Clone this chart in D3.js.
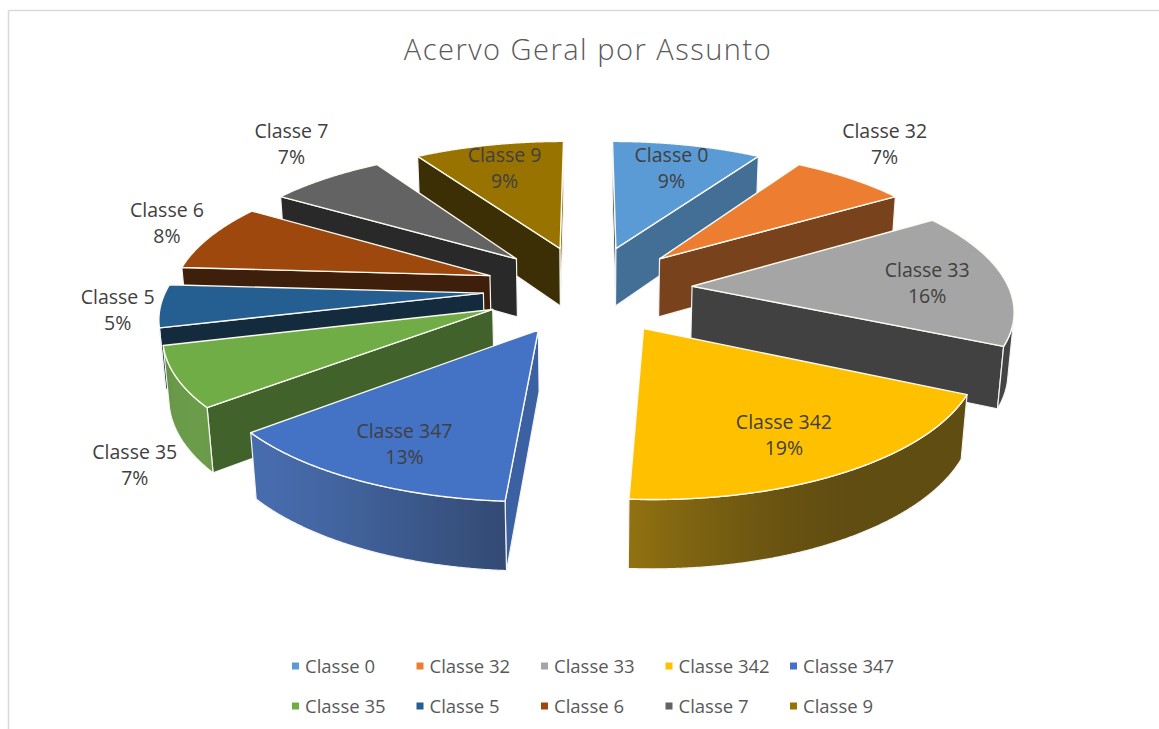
<!DOCTYPE html>
<html>
<head>
<meta charset="utf-8">
<script src="https://cdn.jsdelivr.net/npm/d3@7"></script>
<style>
  body { margin: 0; background: #fff; }
  svg { display: block; font-family: "Open Sans", Lato, sans-serif; }
</style>
</head>
<body>
<svg id="chart" width="1159" height="729"></svg>
<script>
// ---- data ----
const categories = ["Classe 0", "Classe 32", "Classe 33", "Classe 342", "Classe 347",
                    "Classe 35", "Classe 5", "Classe 6", "Classe 7", "Classe 9"];
const shares = [9, 7, 16, 19, 13, 7, 5, 8, 7, 9];
const sliceColors = ["#5B9BD5", "#ED7D31", "#A5A5A5", "#FFC000", "#4472C4",
                     "#70AD47", "#255E91", "#9E480E", "#636363", "#997300"];
const chartTitle = "Acervo Geral por Assunto";

// ---- layout ----
const W = 1159, H = 729;
const svg = d3.select("#chart");
const defs = svg.append("defs");

// chart frame
svg.append("rect")
  .attr("x", 8.5).attr("y", 10.5).attr("width", W + 40).attr("height", H + 40)
  .attr("fill", "#fff").attr("stroke", "#d9d9d9").attr("stroke-width", 1.5);

svg.append("text")
  .attr("x", 588).attr("y", 60)
  .attr("text-anchor", "middle")
  .attr("font-size", 29).attr("font-weight", 300)
  .attr("letter-spacing", 1.5)
  .attr("fill", "#595959")
  .text(chartTitle);

// ---- 3D perspective view of an exploded pie ----
const view = {
  cx: 588, cy: 289,       // screen position of the pie centre
  scale: 317,             // pixels per unit radius at the centre
  tilt: 24.9 * Math.PI / 180,
  dist: 6.26,             // camera distance in radius units
  explode: 0.33,          // explosion offset, radius units
  depth: 0.21             // slab thickness, radius units
};
const sinT = Math.sin(view.tilt), cosT = Math.cos(view.tilt);
const camera = [0, view.dist * sinT, -view.dist * cosT];

// world: X right, Y up, Z away from viewer; pie top face at Y = 0
function project(p) {
  const [X, Y, Z] = p;
  const d = 1 + (Z * cosT - Y * sinT) / view.dist;
  return [view.cx + view.scale * X / d, view.cy - view.scale * (Y * cosT + Z * sinT) / d, d];
}
const radius = d3.scaleLinear().domain([0, 1]).range([0, 1]);

const pie = d3.pie().sort(null).value(d => d.value).startAngle(0).endAngle(2 * Math.PI);
const data = categories.map((c, i) => ({ name: c, value: shares[i], color: sliceColors[i] }));
const arcs = pie(data);

const shade = (c, k, mute = 0) => {
  const r = d3.rgb(c);
  return d3.interpolateRgb(d3.rgb(r.r * k, r.g * k, r.b * k), "#5e5e5e")(mute);
};
const dot = (a, b) => a[0] * b[0] + a[1] * b[1] + a[2] * b[2];
const sub = (a, b) => [a[0] - b[0], a[1] - b[1], a[2] - b[2]];
const flat = p => project(p).slice(0, 2);
const line = pts => "M" + pts.map(p => flat(p).map(v => v.toFixed(2)).join(",")).join("L") + "Z";

// brightness of radial walls and of the rounded outer wall
const wallLight = psi => 0.38 + 0.47 * Math.pow(Math.max(0, Math.sin(psi)), 2);
const rimLight = psi => 0.38 + 0.6 * Math.pow(Math.max(0, Math.cos(psi - 235 * Math.PI / 180)), 2);

const slices = arcs.map((a, i) => {
  const m = (a.startAngle + a.endAngle) / 2;
  const R = radius(1);
  const ox = view.explode * Math.sin(m), oz = view.explode * Math.cos(m);
  const rim = (ang, y, r = R) => [ox + r * Math.sin(ang), y, oz + r * Math.cos(ang)];
  const apex = y => [ox, y, oz];
  const n = Math.max(2, Math.ceil((a.endAngle - a.startAngle) / (Math.PI / 720)));
  const topPts = [apex(0)];
  for (let k = 0; k <= n; k++) topPts.push(rim(a.startAngle + (a.endAngle - a.startAngle) * k / n, 0));
  const centre = rim(m, 0, R * 0.5);
  return { a, i, m, n, ox, oz, rim, apex, topPts, depth: project(centre)[2] };
});

const gSlices = svg.append("g");
slices.slice().sort((p, q) => q.depth - p.depth).forEach(s => {
  const { a, rim, apex, n } = s;
  const h = view.depth;
  const base = a.data.color;
  const g = gSlices.append("g");
  const a0 = a.startAngle, a1 = a.endAngle;

  // radial walls
  const walls = [
    { ang: a0, n: [-Math.cos(a0), 0, Math.sin(a0)], psi: a0 - Math.PI / 2 },
    { ang: a1, n: [Math.cos(a1), 0, -Math.sin(a1)], psi: a1 + Math.PI / 2 }
  ];
  walls.forEach(w => {
    const p = apex(-h / 2);
    if (dot(w.n, sub(camera, p)) > 0) {
      g.append("path")
        .attr("d", line([apex(0), rim(w.ang, 0), rim(w.ang, -h), apex(-h)]))
        .attr("fill", shade(base, wallLight(w.psi), 0.06))
        .attr("stroke", "#f4f4f4").attr("stroke-width", 1.2).attr("stroke-linejoin", "round");
    }
  });

  // rounded outer wall (only the part facing the camera)
  const vis = [];
  for (let k = 0; k <= n; k++) {
    const ang = a0 + (a1 - a0) * k / n;
    const nrm = [Math.sin(ang), 0, Math.cos(ang)];
    if (dot(nrm, sub(camera, rim(ang, -h / 2))) > 0) vis.push(ang);
  }
  if (vis.length > 1) {
    const top = vis.map(ang => rim(ang, 0));
    const bot = vis.slice().reverse().map(ang => rim(ang, -h));
    const xs = vis.map(ang => project(rim(ang, -h / 2))[0]);
    const x0 = d3.min(xs), x1 = d3.max(xs);
    const id = "rim" + s.i;
    const grad = defs.append("linearGradient").attr("id", id)
      .attr("gradientUnits", "userSpaceOnUse")
      .attr("x1", x0).attr("x2", x1).attr("y1", 0).attr("y2", 0);
    const stops = vis.filter((_, k) => k % 8 === 0 || k === vis.length - 1)
      .map(ang => ({ o: x1 > x0 ? (project(rim(ang, -h / 2))[0] - x0) / (x1 - x0) : 0,
                     c: shade(base, rimLight(ang), 0.18) }))
      .sort((p, q) => p.o - q.o);
    stops.forEach(st => grad.append("stop").attr("offset", st.o).attr("stop-color", st.c));
    g.append("path")
      .attr("d", line(top.concat(bot)))
      .attr("fill", `url(#${id})`)
      .attr("stroke", "#f4f4f4").attr("stroke-width", 1.2).attr("stroke-linejoin", "round");
  }

  // top face
  g.append("path")
    .attr("d", line(s.topPts))
    .attr("fill", base)
    .attr("stroke", "#fbfbf0").attr("stroke-width", 1.4).attr("stroke-linejoin", "round");
});

// ---- data labels ----
const gLabels = svg.append("g").attr("font-size", 19.5).attr("fill", "#404040");
const lineGap = 26;
slices.forEach(s => {
  const { a, m, rim, apex } = s;
  const txt = [a.data.name, a.data.value + "%"];
  const lab = gLabels.append("g");
  const t1 = lab.append("text").attr("text-anchor", "middle").text(txt[0]);
  const t2 = lab.append("text").attr("text-anchor", "middle").text(txt[1]);
  let cx, cy;
  if (a.data.value >= 9) {
    // inside the top face, pushed a little outward from its centroid
    const poly = s.topPts.map(flat);
    const c = d3.polygonCentroid(poly);
    const o = flat(apex(0));
    cx = o[0] + 1.17 * (c[0] - o[0]);
    cy = o[1] + 1.17 * (c[1] - o[1]);
  } else {
    // outside, next to the rim along the slice's mid direction
    const y = Math.cos(m) < -0.3 ? -view.depth : 0;
    const p = flat(rim(m, y, 1));
    const dx = Math.sin(m), dy = -Math.cos(m);
    const bw = Math.max(t1.node().getComputedTextLength(), t2.node().getComputedTextLength());
    const bh = lineGap * 2 + 8;
    const k = Math.min(Math.abs(dx) > 1e-6 ? (bw / 2) / Math.abs(dx) : 1e9,
                       Math.abs(dy) > 1e-6 ? (bh / 2) / Math.abs(dy) : 1e9) + 6;
    cx = p[0] + dx * k; cy = p[1] + dy * k;
  }
  t1.attr("x", cx).attr("y", cy - lineGap / 2 + 6.5);
  t2.attr("x", cx).attr("y", cy + lineGap / 2 + 6.5);
});

// ---- legend ----
const legendCols = 5, colW = 124.5, legX = 292, legY = [666, 706];
const gLeg = svg.append("g").attr("font-size", 18.5).attr("fill", "#595959");
categories.forEach((c, i) => {
  const col = i % legendCols, row = Math.floor(i / legendCols);
  const x = legX + col * colW, y = legY[row];
  gLeg.append("rect").attr("x", x).attr("y", y - 3.5).attr("width", 7).attr("height", 7)
    .attr("fill", sliceColors[i]);
  gLeg.append("text").attr("x", x + 13).attr("y", y + 6.5).text(c);
});
</script>
</body>
</html>
